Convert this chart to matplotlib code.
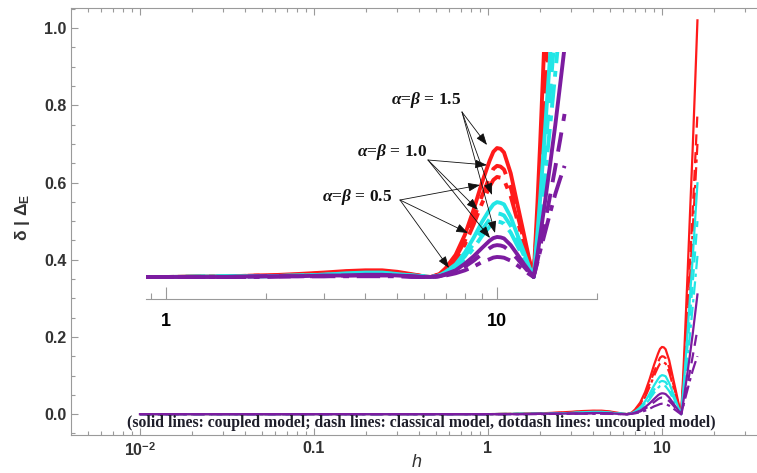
import matplotlib
matplotlib.use('Agg')
import matplotlib.pyplot as plt
from matplotlib.ticker import FixedLocator, LogLocator, NullFormatter, MultipleLocator

plt.rcParams['font.family'] = ['Liberation Sans', 'DejaVu Sans']
plt.rcParams['mathtext.fontset'] = 'custom'
plt.rcParams['mathtext.rm'] = 'Liberation Sans:bold'
plt.rcParams['mathtext.bf'] = 'Liberation Sans:bold'
plt.rcParams['mathtext.it'] = 'Liberation Serif:bold:italic'

# h grid
h = [0.01, 0.1, 1.0, 1.5, 2.0, 2.5, 3.0, 3.5, 4.0, 4.5, 5.0, 5.5, 6.0, 6.3, 6.7,
     7.0, 7.5, 8.0, 8.5, 9.0, 9.5, 9.75, 10.0, 10.25, 10.5, 11.0, 11.5, 12.0, 12.5, 12.9,
     13.25, 13.5, 14.0, 14.5, 15.0, 15.5, 16.0]

# red curves
red_solid = [0, 0, 0, 0.001, 0.002, 0.004, 0.006, 0.008, 0.009, 0.009, 0.007, 0.004, 0.001, 0.000, 0.004,
             0.012, 0.030, 0.057, 0.091, 0.127, 0.157, 0.169, 0.174, 0.173, 0.168, 0.140, 0.100, 0.062,
             0.025, 0.000, 0.100, 0.180, 0.350, 0.520, 0.680, 0.850, 1.020]
red_dash = [0, 0, 0, 0.001, 0.002, 0.003, 0.005, 0.007, 0.008, 0.008, 0.006, 0.003, 0.001, 0.000, 0.003,
            0.010, 0.026, 0.049, 0.078, 0.109, 0.135, 0.146, 0.150, 0.149, 0.145, 0.121, 0.086, 0.053,
            0.021, 0.000, 0.080, 0.140, 0.270, 0.400, 0.520, 0.650, 0.780]
red_dotdash = [0, 0, 0, 0.001, 0.002, 0.003, 0.005, 0.006, 0.007, 0.007, 0.005, 0.003, 0.001, 0.000, 0.003,
               0.009, 0.023, 0.044, 0.071, 0.099, 0.122, 0.131, 0.135, 0.134, 0.131, 0.109, 0.078, 0.048,
               0.019, 0.000, 0.070, 0.125, 0.240, 0.355, 0.470, 0.585, 0.700]
# cyan curves
cyan_solid = [0, 0, 0, 0.001, 0.001, 0.002, 0.003, 0.005, 0.006, 0.006, 0.004, 0.002, 0.001, 0.000, 0.002,
              0.007, 0.017, 0.033, 0.053, 0.074, 0.091, 0.098, 0.101, 0.100, 0.098, 0.081, 0.058, 0.036,
              0.014, 0.000, 0.060, 0.105, 0.205, 0.305, 0.400, 0.500, 0.598]
cyan_dash = [0, 0, 0, 0.001, 0.001, 0.002, 0.003, 0.004, 0.005, 0.005, 0.004, 0.002, 0.001, 0.000, 0.002,
             0.006, 0.015, 0.028, 0.045, 0.063, 0.078, 0.084, 0.086, 0.085, 0.083, 0.069, 0.049, 0.031,
             0.012, 0.000, 0.050, 0.088, 0.172, 0.255, 0.335, 0.418, 0.500]
cyan_dotdash = [0, 0, 0, 0.000, 0.001, 0.002, 0.003, 0.004, 0.004, 0.004, 0.003, 0.002, 0.001, 0.000, 0.002,
                0.005, 0.013, 0.024, 0.039, 0.055, 0.068, 0.073, 0.075, 0.074, 0.072, 0.060, 0.043, 0.027,
                0.011, 0.000, 0.040, 0.072, 0.140, 0.208, 0.275, 0.342, 0.410]
# purple curves
purple_solid = [0, 0, 0, 0.000, 0.001, 0.001, 0.002, 0.002, 0.003, 0.003, 0.002, 0.001, 0.000, 0.000, 0.001,
                0.004, 0.009, 0.018, 0.028, 0.039, 0.049, 0.0525, 0.054, 0.0535, 0.052, 0.043, 0.031, 0.019,
                0.008, 0.000, 0.030, 0.055, 0.105, 0.155, 0.205, 0.258, 0.310]
purple_dash = [0, 0, 0, 0.000, 0.001, 0.001, 0.001, 0.002, 0.002, 0.002, 0.002, 0.001, 0.000, 0.000, 0.001,
               0.003, 0.007, 0.014, 0.022, 0.031, 0.039, 0.042, 0.043, 0.0425, 0.041, 0.034, 0.025, 0.015,
               0.006, 0.000, 0.022, 0.040, 0.076, 0.112, 0.148, 0.184, 0.220]
purple_dotdash = [0, 0, 0, 0.000, 0.000, 0.001, 0.001, 0.001, 0.001, 0.001, 0.001, 0.000, 0.000, 0.000, 0.001,
                  0.002, 0.005, 0.009, 0.014, 0.020, 0.024, 0.0262, 0.027, 0.0267, 0.026, 0.022, 0.016, 0.010,
                  0.004, 0.000, 0.020, 0.035, 0.062, 0.088, 0.112, 0.132, 0.150]

RED, CYAN, PURPLE = '#ff1a1a', '#22e6e6', '#7c1ca0'
SOLID, DASH, DOTDASH = '-', (0, (5, 3)), (0, (6, 2, 1.5, 2))
curves = [
    (red_solid, RED, SOLID), (red_dash, RED, DASH), (red_dotdash, RED, DOTDASH),
    (cyan_solid, CYAN, SOLID), (cyan_dash, CYAN, DASH), (cyan_dotdash, CYAN, DOTDASH),
    (purple_solid, PURPLE, SOLID), (purple_dash, PURPLE, DASH), (purple_dotdash, PURPLE, DOTDASH),
]

W, H = 757, 473
GREY = '#9a9a9a'


def px(x, y):
    # top-left pixel -> figure fraction
    return x / W, 1 - y / H


fig = plt.figure(figsize=(W / 100, H / 100), dpi=100)

# main axes
ax = fig.add_axes([71 / W, 38 / H, (762 - 71) / W, (435 - 8) / H])
for ys, c, ls in curves:
    ax.plot(h, ys, color=c, linestyle=ls, lw=1.6)
ax.set_xscale('log')
ax.set_xlim(0.00401, 37.6)
ax.set_ylim(-0.054, 1.052)
ax.xaxis.set_major_locator(FixedLocator([0.01, 0.1, 1, 10]))
ax.set_xticklabels(['$10^{-2}$', '0.1', '1', '10'])
ax.xaxis.set_minor_locator(LogLocator(base=10, subs=range(2, 10)))
ax.xaxis.set_minor_formatter(NullFormatter())
ax.yaxis.set_major_locator(MultipleLocator(0.2))
ax.yaxis.set_minor_locator(MultipleLocator(0.05))
ax.yaxis.set_major_formatter(plt.FuncFormatter(lambda v, p: f'{v:.1f}'))
for s in ax.spines.values():
    s.set_color(GREY)
ax.spines['right'].set_visible(False)
ax.tick_params(which='both', direction='in', top=True, right=False, color=GREY, width=0.8)
ax.tick_params(which='major', length=5, labelsize=11.5, labelcolor='#333333')
ax.tick_params(which='minor', length=3)
ax.tick_params(axis='x', pad=4)
ax.tick_params(axis='y', pad=3)
for lab in ax.get_xticklabels() + ax.get_yticklabels():
    lab.set_fontweight('bold')

fig.text(*px(417, 462), 'h', ha='center', va='center', fontsize=13, style='italic', color='#333333')
fig.text(*px(22, 217), 'δ | Δ$_{\\mathrm{E}}$', ha='center', va='center', rotation=90,
         fontsize=12.5, fontweight='bold', color='#333333')
fig.text(*px(421, 423),
         '(solid lines: coupled model; dash lines: classical model, dotdash lines: uncoupled model)',
         ha='center', va='center', fontsize=11.3, fontweight='bold', family='Liberation Serif',
         color='#1e1e2a')

# inset
ax2 = fig.add_axes([146 / W, 1 - 299 / H, (597 - 146) / W, (299 - 52) / H])
ax2.patch.set_visible(False)
for ys, c, ls in curves:
    ax2.plot(h, ys, color=c, linestyle=ls, lw=2.8)
ax2.set_xscale('log')
ax2.set_xlim(0.870, 20.05)
ax2.set_ylim(-0.0297, 0.3036)
for k in ['left', 'right', 'top']:
    ax2.spines[k].set_visible(False)
ax2.spines['bottom'].set_color(GREY)
ax2.set_yticks([])
ax2.xaxis.set_major_locator(FixedLocator([1, 10]))
ax2.set_xticklabels(['1', '10'])
ax2.xaxis.set_minor_locator(LogLocator(base=10, subs=range(2, 10)))
ax2.xaxis.set_minor_formatter(NullFormatter())
ax2.tick_params(axis='x', which='both', direction='in', color=GREY, width=0.8)
ax2.tick_params(axis='x', which='major', length=9, labelsize=13, pad=10)
ax2.tick_params(axis='x', which='minor', length=4)
for lab in ax2.get_xticklabels():
    lab.set_fontweight('bold')

# annotation labels and arrows
labels = ['1.5', '1.0', '0.5']
label_pos = [(426, 100), (392, 152), (357, 197)]
arrow_start = [(462, 112), (428, 160), (400, 200)]
arrow_ends = [
    [(487, 145), (492, 195), (495, 233)],
    [(487, 165), (478, 210), (490, 238)],
    [(480, 185), (468, 233), (449, 268)],
]
for lab, lp, st, ends in zip(labels, label_pos, arrow_start, arrow_ends):
    fig.text(*px(*lp), '$\\alpha$=$\\beta$ = ' + lab, ha='center', va='center', fontsize=12.5,
             family='Liberation Serif', fontweight='bold', color='#111111', zorder=10)
    for e in ends:
        ax2.annotate('', xy=px(*e), xytext=px(*st), xycoords='figure fraction',
                     textcoords='figure fraction', annotation_clip=False, zorder=10,
                     arrowprops=dict(arrowstyle='-|>,head_length=0.6,head_width=0.22', color='#111111',
                                     lw=0.6, mutation_scale=12, shrinkA=0, shrinkB=0))

fig.savefig('out.png', dpi=100)
